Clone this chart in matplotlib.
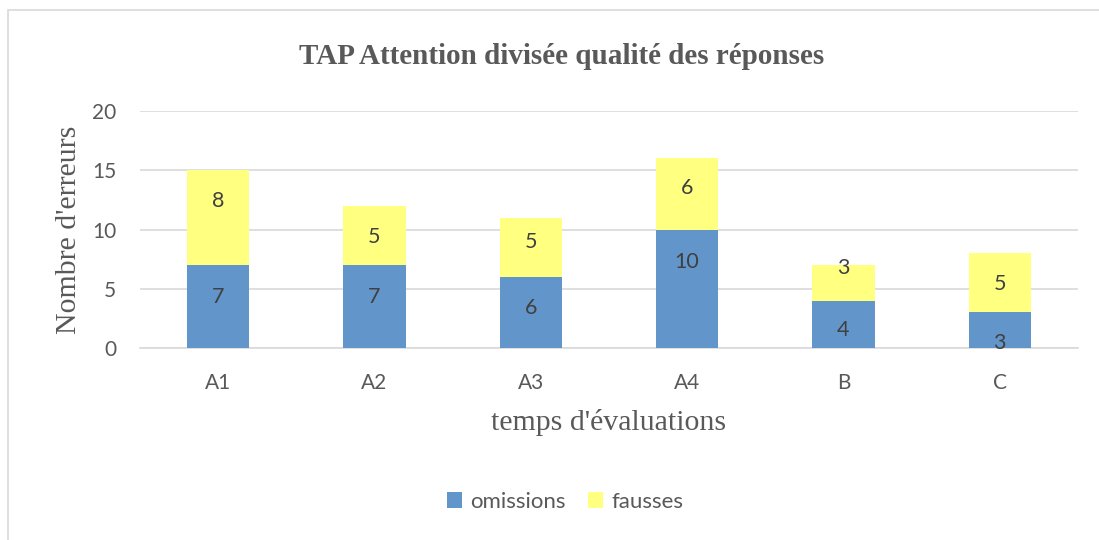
import matplotlib
matplotlib.use("Agg")
from matplotlib import pyplot as plt
from matplotlib.patches import Rectangle
import numpy as np

# données
categories = ["A1", "A2", "A3", "A4", "B", "C"]
omissions = [7, 7, 6, 10, 4, 3]
fausses = [8, 5, 5, 6, 3, 5]

# décalage des étiquettes (points) pour coller à l'original
nudge_omissions = [7, 7, 3, 19, -4, -9]
nudge_fausses = [12, -1, 4, 4, 11, -1]

BLUE = "#6295C9"
YELLOW = "#FFFF80"
GREY = "#595959"
SANS = ["Lato", "DejaVu Sans"]
SERIF = ["Liberation Serif", "DejaVu Serif"]

fig = plt.figure(figsize=(10.99, 5.40), dpi=100)
W, H = 1099, 540

# cadre de la zone graphique
fig.patches.append(Rectangle((8 / W, -0.1), 1.2, (H - 10) / H + 0.1,
                             transform=fig.transFigure, fill=False,
                             edgecolor="#D9D9D9", linewidth=1.2))

ax = fig.add_axes([140 / W, 1 - 348 / H, (1078 - 140) / W, (348 - 111) / H])

x = np.arange(len(categories))
width = 0.40
ax.bar(x, omissions, width, color=BLUE, label="omissions", zorder=3)
ax.bar(x, fausses, width, bottom=omissions, color=YELLOW, label="fausses", zorder=3)

for i in range(len(categories)):
    ax.annotate(str(omissions[i]), (x[i], omissions[i] / 2),
                xytext=(0, nudge_omissions[i]), textcoords="offset points",
                ha="center", va="center", fontsize=15.5, color="#404040",
                family=SANS, zorder=4)
    ax.annotate(str(fausses[i]), (x[i], omissions[i] + fausses[i] / 2),
                xytext=(0, nudge_fausses[i]), textcoords="offset points",
                ha="center", va="center", fontsize=15.5, color="#404040",
                family=SANS, zorder=4)

ax.set_xlim(-0.5, len(categories) - 0.5)
ax.set_ylim(0, 20)
ax.set_yticks([0, 5, 10, 15, 20])
ax.set_xticks(x)
ax.set_xticklabels(categories)
ax.grid(axis="y", color="#D9D9D9", linewidth=1.2, zorder=0)
for s in ["top", "right", "left"]:
    ax.spines[s].set_visible(False)
ax.spines["bottom"].set_color("#D9D9D9")
ax.spines["bottom"].set_linewidth(1.2)
ax.tick_params(length=0, labelsize=15, labelcolor=GREY)
ax.tick_params(axis="x", pad=18)
ax.tick_params(axis="y", pad=17)
for t in ax.get_xticklabels() + ax.get_yticklabels():
    t.set_family(SANS)

ax.set_ylabel("Nombre d'erreurs", family=SERIF, fontsize=21.5, color=GREY)
ax.set_xlabel("temps d'évaluations", family=SERIF, fontsize=21.5, color=GREY)
ax.yaxis.set_label_coords(-(140 - 69) / (1078 - 140), 0.5)
ax.xaxis.set_label_coords(0.5, -(422 - 348) / (348 - 111))
ax.xaxis.label.set_va("center")
ax.yaxis.label.set_va("center")

fig.text(562 / W, 1 - 57 / H, "TAP Attention divisée qualité des réponses",
         ha="center", va="center", family=SERIF, fontweight="bold",
         fontsize=21, color=GREY)

fig.legend(loc="center", bbox_to_anchor=(565 / W, 1 - 502 / H), ncol=2,
           frameon=False, prop={"family": SANS, "size": 16},
           labelcolor=GREY, handlelength=0.7, handleheight=0.7,
           handletextpad=0.35, columnspacing=1.0)

fig.savefig("out.png", dpi=100)
